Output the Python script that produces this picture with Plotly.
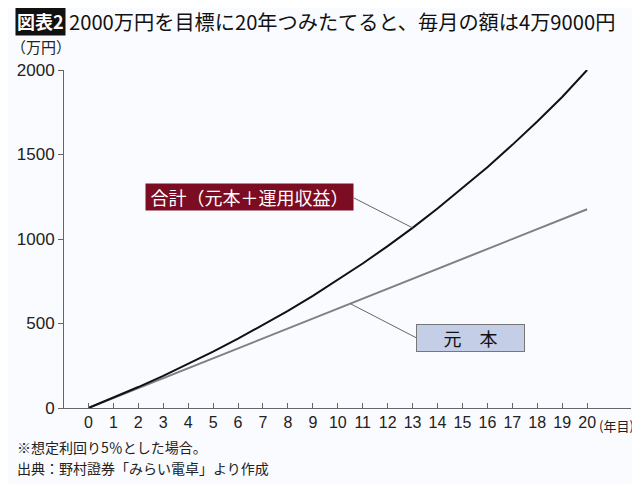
import plotly.graph_objects as go

years = list(range(0, 21))
total = [0, 60, 124, 190, 260, 333, 410, 490, 575, 663, 757, 855, 958, 1066,
         1180, 1300, 1425, 1557, 1695, 1840, 2000]
principal = [0, 59, 118, 176, 235, 294, 353, 412, 470, 529, 588, 647, 706, 764,
             823, 882, 941, 1000, 1058, 1117, 1176]
y_ticks = [0, 500, 1000, 1500, 2000]
x_tick_labels = [str(y) for y in years]

title_text = "2000万円を目標に20年つみたてると、毎月の額は4万9000円"
label_total = "合計（元本＋運用収益）"
label_principal = "元　本"
note1 = "※想定利回り5％とした場合。"
note2 = "出典：野村證券「みらい電卓」より作成"

# the page places the figure at an 8px offset; work in reference pixels
OFF = 8
W, H = 640 - OFF, 484 - OFF
L, R, T, B = 58 - OFF, 9, 70 - OFF, 76
PW, PH = W - L - R, H - T - B

def px(x):
    return (x - OFF - L) / PW

def py(y):
    return (H - B - (y - OFF)) / PH

FONT = "Liberation Sans, Noto Sans CJK JP, sans-serif"
CJK = "Noto Sans CJK JP, sans-serif"
BG = "#fafbfe"

fig = go.Figure()
fig.add_trace(go.Scatter(x=years, y=principal, mode="lines",
                         line=dict(color="#808080", width=2), hoverinfo="skip"))
fig.add_trace(go.Scatter(x=years, y=total, mode="lines",
                         line=dict(color="#111111", width=2), hoverinfo="skip"))

x0 = -0.98
x1 = 21.76
fig.update_xaxes(range=[x0, x1], tickmode="array", tickvals=years,
                 ticktext=x_tick_labels, ticks="inside", ticklen=5,
                 tickcolor="#666", showline=True, linecolor="#666", linewidth=1,
                 showgrid=False, zeroline=False,
                 tickfont=dict(family=FONT, size=16, color="#222"))
fig.update_yaxes(range=[0, 2000], tickmode="array", tickvals=y_ticks,
                 ticks="outside", ticklen=5, tickcolor="#666",
                 showline=True, linecolor="#666", linewidth=1,
                 showgrid=False, zeroline=False,
                 tickfont=dict(family=FONT, size=17, color="#222"))

# leader lines (from label boxes to the curves)
fig.add_shape(type="line", xref="x", yref="y",
              x0=(351 - 82.7) / 25.2, y0=(408.3 - 198) / 0.1692,
              x1=years[13], y1=total[13],
              line=dict(color="#666", width=1))
fig.add_shape(type="line", xref="x", yref="y",
              x0=(414 - 82.7) / 25.2, y0=(408.3 - 338) / 0.1692,
              x1=10.5, y1=(principal[10] + principal[11]) / 2,
              line=dict(color="#666", width=1))

annotations = [
    dict(text="図表2", x=px(8), y=py(21), xanchor="left", yanchor="middle",
         font=dict(family=CJK, size=18, color="white", weight="bold"),
         bgcolor="#111", borderpad=1),
    dict(text=title_text, x=px(61), y=py(21), xanchor="left", yanchor="middle",
         font=dict(family=CJK, size=20.2, color="#111")),
    dict(text="（万円）", x=px(2), y=py(46), xanchor="left", yanchor="middle",
         font=dict(family=CJK, size=15, color="#222")),
    dict(text="(年目)", x=px(597), y=py(425), xanchor="left", yanchor="middle",
         font=dict(family=CJK, size=13, color="#222")),
    dict(text=note1, x=px(8), y=py(447), xanchor="left", yanchor="middle",
         font=dict(family=CJK, size=14, color="#222")),
    dict(text=note2, x=px(8), y=py(468), xanchor="left", yanchor="middle",
         font=dict(family=CJK, size=14, color="#222")),
    dict(text=label_total, x=px(140), y=py(197), xanchor="left", yanchor="middle",
         font=dict(family=CJK, size=18, color="white"),
         bgcolor="#7b0c22", width=203, height=22, borderpad=2),
    dict(text=label_principal, x=px(414), y=py(338), xanchor="left", yanchor="middle",
         font=dict(family=CJK, size=18, color="#111"),
         bgcolor="#c4cee6", bordercolor="#777", borderwidth=1,
         width=103, height=22, borderpad=2),
]
for a in annotations:
    a.setdefault("xref", "paper")
    a.setdefault("yref", "paper")
    a.setdefault("showarrow", False)
fig.update_layout(annotations=annotations)

fig.update_layout(width=W, height=H, margin=dict(l=L, r=R, t=T, b=B),
                  paper_bgcolor=BG, plot_bgcolor=BG, showlegend=False,
                  font=dict(family=FONT))

fig.write_html("out.html")
